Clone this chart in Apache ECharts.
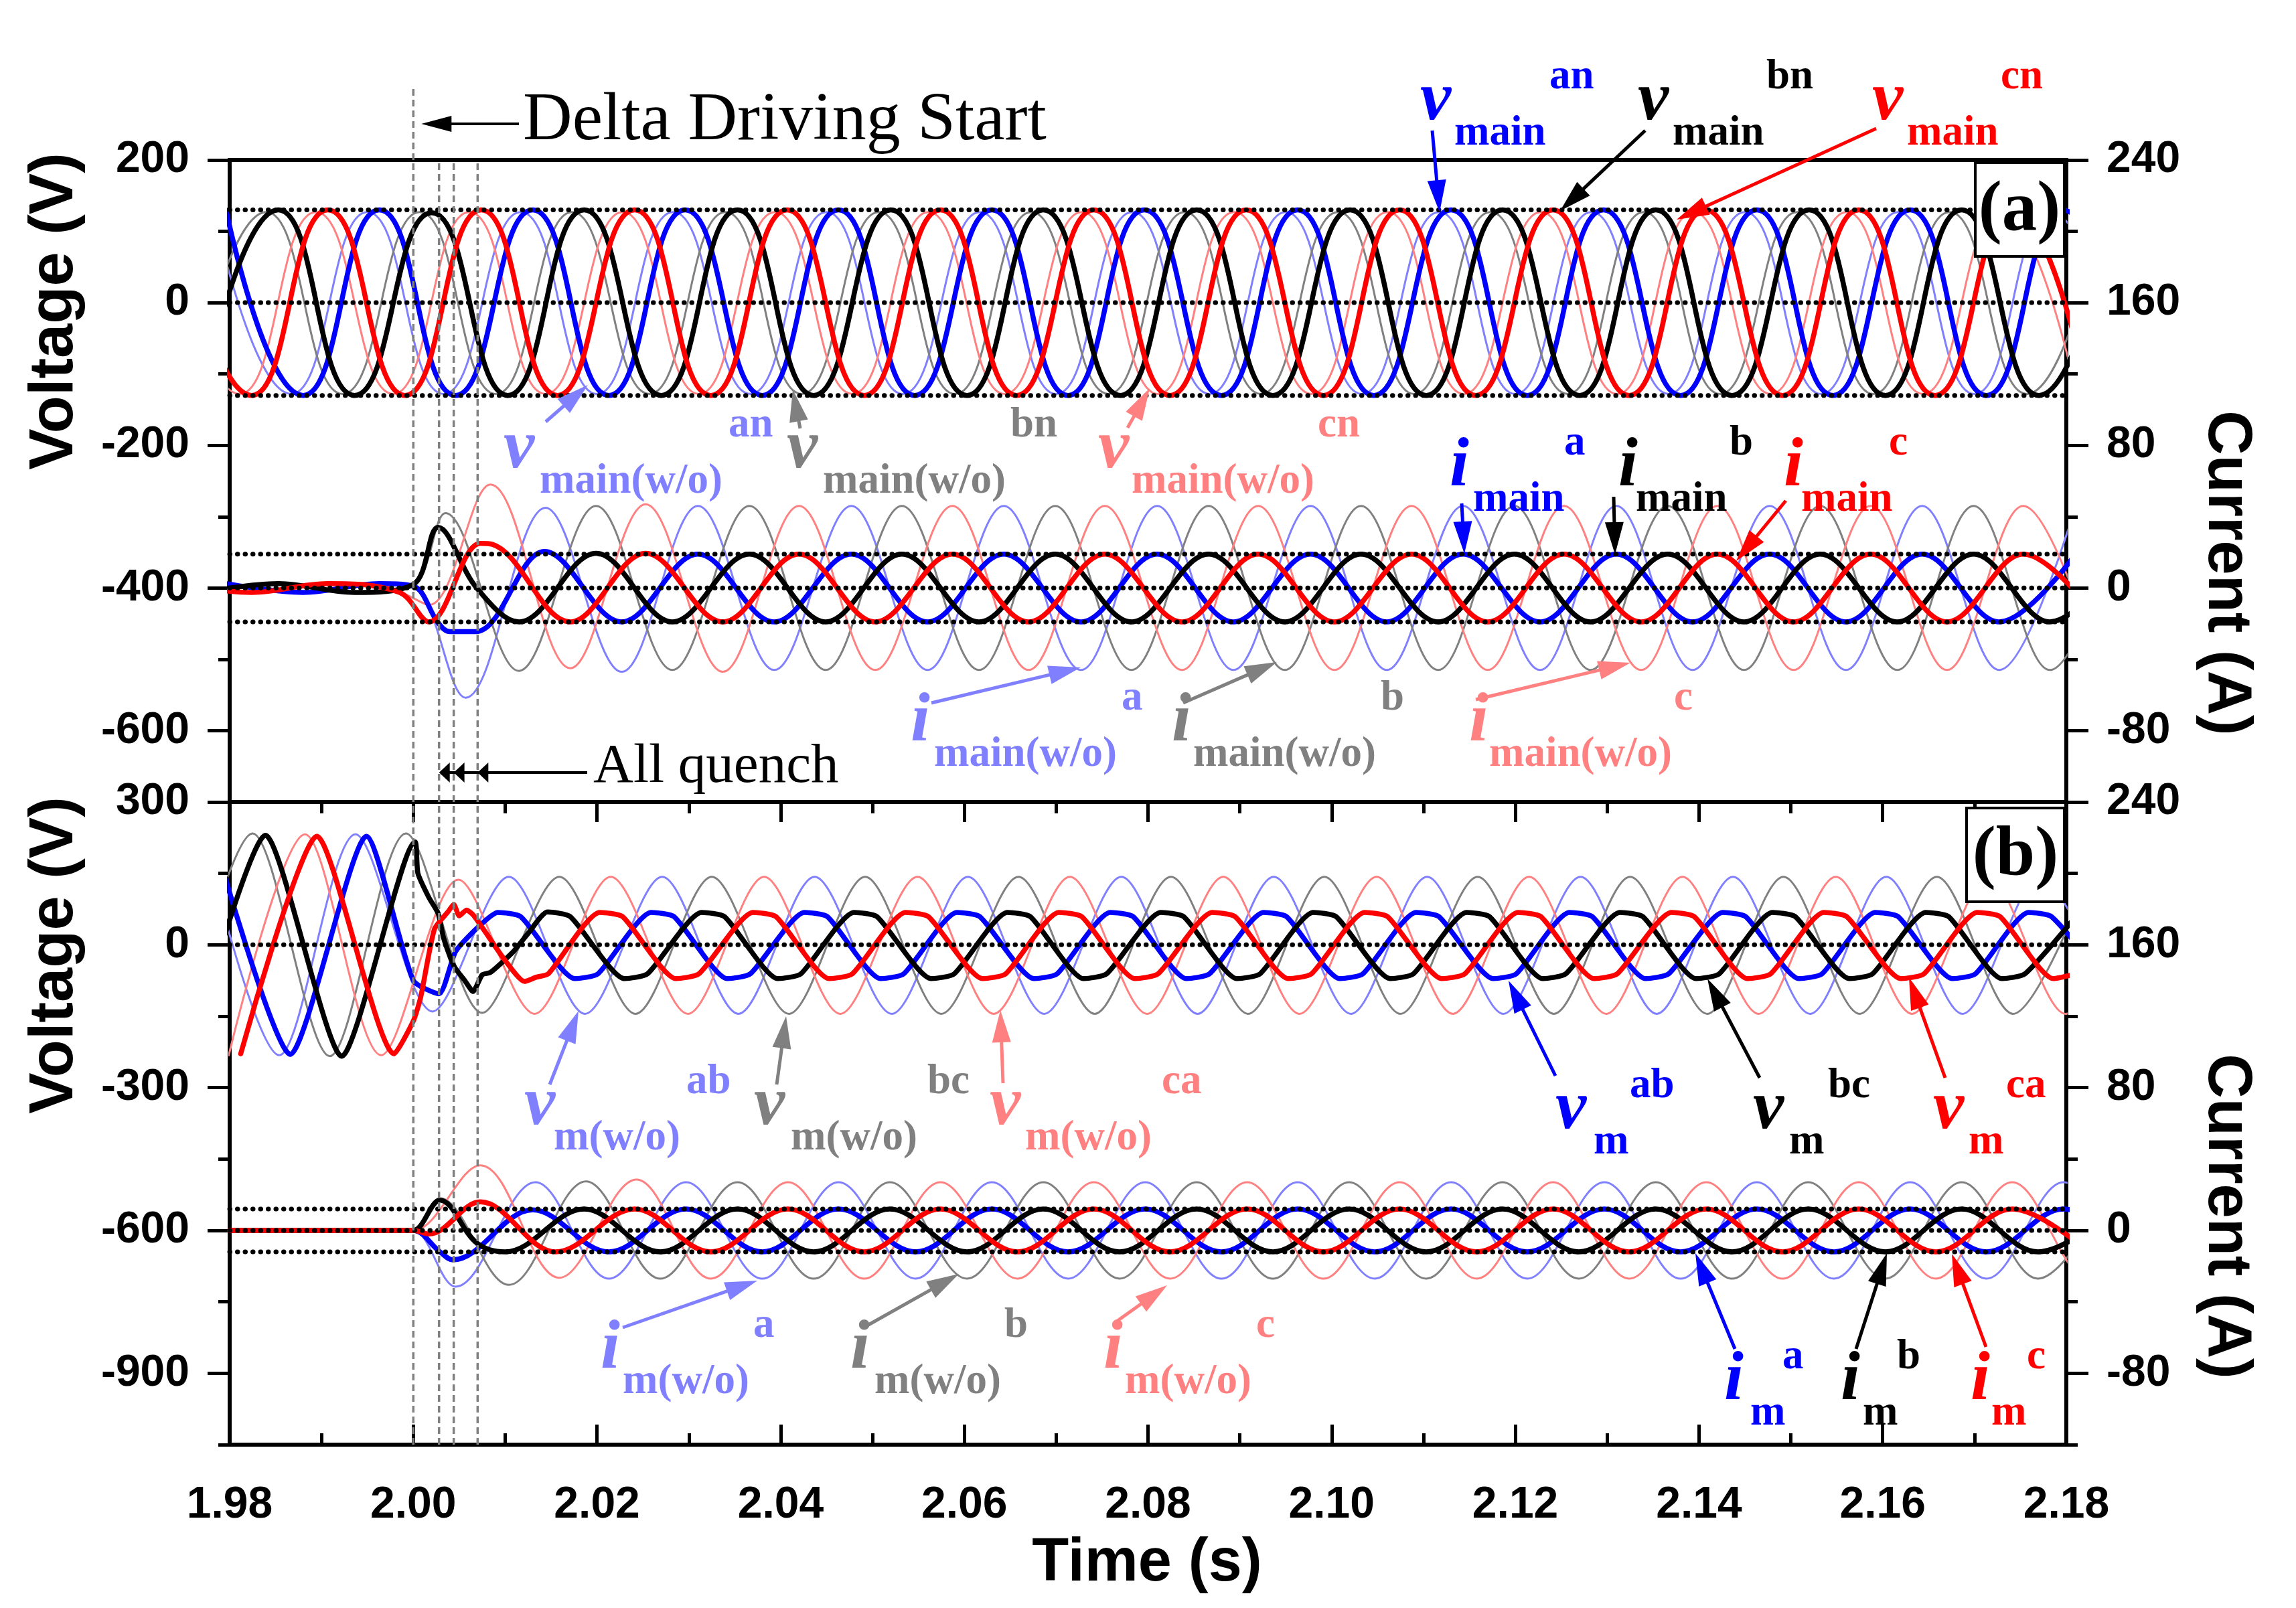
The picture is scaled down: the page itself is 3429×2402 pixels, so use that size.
<!DOCTYPE html>
<html><head><meta charset="utf-8">
<script src="https://cdn.jsdelivr.net/npm/echarts@6/dist/echarts.min.js"></script>
<style>html,body{margin:0;padding:0;background:#fff}#c{width:3429px;height:2402px}</style>
</head><body><div id="c"></div>
<script>
// ---------------- DATA (time in s, voltage in V, current in A) ----------------
const TIME_MIN = 1.98, TIME_MAX = 2.18;
const quenchTimes = [2.0000, 2.0028, 2.0044, 2.0070];
const refVoltA = [130, 0, -130];
const refCurrA = [19, 0, -19];
const refVoltB = [0];
const refCurrB = [12, 0, -12];
const voltTicksA = [-600, -400, -200, 0, 200];
const voltTicksB = [-900, -600, -300, 0, 300];
const currTicks = [-80, 0, 80, 160, 240];

// (a) phase voltages, main (with delta driving)
const vMainAn = [[1.9796,130],[1.9880,-130],[1.9963,130],[2.0046,-130],[2.0130,130],[2.0213,-130],[2.0296,130],[2.0380,-130],[2.0463,130],[2.0546,-130],[2.0630,130],[2.0713,-130],[2.0796,130],[2.0880,-130],[2.0963,130],[2.1046,-130],[2.1130,130],[2.1213,-130],[2.1296,130],[2.1380,-130],[2.1463,130],[2.1546,-130],[2.1630,130],[2.1713,-130],[2.1796,130],[2.1880,-130]];
const vMainBn = [[1.9770,-130],[1.9853,130],[1.9936,-130],[2.0020,126],[2.0103,-130],[2.0186,130],[2.0270,-130],[2.0353,130],[2.0436,-130],[2.0520,130],[2.0603,-130],[2.0686,130],[2.0770,-130],[2.0853,130],[2.0936,-130],[2.1020,130],[2.1103,-130],[2.1186,130],[2.1270,-130],[2.1353,130],[2.1436,-130],[2.1520,130],[2.1603,-130],[2.1686,130],[2.1770,-130],[2.1853,130]];
const vMainCn = [[1.9741,130],[1.9824,-130],[1.9907,130],[1.9991,-130],[2.0074,130],[2.0157,-130],[2.0241,130],[2.0324,-130],[2.0407,130],[2.0491,-130],[2.0574,130],[2.0657,-130],[2.0741,130],[2.0824,-130],[2.0907,130],[2.0991,-130],[2.1074,130],[2.1157,-130],[2.1241,130],[2.1324,-130],[2.1407,130],[2.1491,-130],[2.1574,130],[2.1657,-130],[2.1741,130],[2.1824,-130]];
// (a) phase voltages without delta driving
const vWoAn = [[1.9783,127],[1.9867,-128],[1.9950,127],[2.0033,-128],[2.0117,127],[2.0200,-128],[2.0283,127],[2.0367,-128],[2.0450,127],[2.0533,-128],[2.0617,127],[2.0700,-128],[2.0783,127],[2.0867,-128],[2.0950,127],[2.1033,-128],[2.1117,127],[2.1200,-128],[2.1283,127],[2.1367,-128],[2.1450,127],[2.1533,-128],[2.1617,127],[2.1700,-128],[2.1783,127],[2.1867,-128]];
const vWoBn = [[1.9757,-128],[1.9840,127],[1.9923,-128],[2.0007,127],[2.0090,-128],[2.0173,127],[2.0257,-128],[2.0340,127],[2.0423,-128],[2.0507,127],[2.0590,-128],[2.0673,127],[2.0757,-128],[2.0840,127],[2.0923,-128],[2.1007,127],[2.1090,-128],[2.1173,127],[2.1257,-128],[2.1340,127],[2.1423,-128],[2.1507,127],[2.1590,-128],[2.1673,127],[2.1757,-128],[2.1840,127]];
const vWoCn = [[1.9728,127],[1.9811,-128],[1.9894,127],[1.9978,-128],[2.0061,127],[2.0144,-128],[2.0228,127],[2.0311,-128],[2.0394,127],[2.0478,-128],[2.0561,127],[2.0644,-128],[2.0728,127],[2.0811,-128],[2.0894,127],[2.0978,-128],[2.1061,127],[2.1144,-128],[2.1228,127],[2.1311,-128],[2.1394,127],[2.1478,-128],[2.1561,127],[2.1644,-128],[2.1728,127],[2.1811,-128]];
// (a) main currents
const iMainA = [[1.9796,2.5],[1.9880,-2.5],[1.9963,2.5],[2.0000,1],[2.0027,-19.5],[2.0040,-24.5],[2.0068,-24.5],[2.0143,20.5],[2.0227,-19],[2.0310,19],[2.0393,-19],[2.0477,19],[2.0560,-19],[2.0643,19],[2.0727,-19],[2.0810,19],[2.0893,-19],[2.0977,19],[2.1060,-19],[2.1143,19],[2.1227,-19],[2.1310,19],[2.1393,-19],[2.1477,19],[2.1560,-19],[2.1643,19],[2.1727,-19],[2.1810,19]];
const iMainB = [[1.9770,-2.5],[1.9853,2.5],[1.9936,-2.5],[2.0000,2],[2.0027,34],[2.0069,0],[2.0115,-19],[2.0199,19.5],[2.0282,-19],[2.0366,19],[2.0449,-19],[2.0532,19],[2.0616,-19],[2.0699,19],[2.0782,-19],[2.0866,19],[2.0949,-19],[2.1032,19],[2.1116,-19],[2.1199,19],[2.1282,-19],[2.1366,19],[2.1449,-19],[2.1532,19],[2.1616,-19],[2.1699,19],[2.1782,-19],[2.1866,19]];
const iMainC = [[1.9741,2.5],[1.9824,-2.5],[1.9907,2.5],[1.9985,-2.5],[2.0017,-19],[2.0073,25],[2.0086,24.5],[2.0171,-19],[2.0253,19.5],[2.0337,-19],[2.0420,19],[2.0503,-19],[2.0587,19],[2.0670,-19],[2.0753,19],[2.0837,-19],[2.0920,19],[2.1003,-19],[2.1087,19],[2.1170,-19],[2.1253,19],[2.1337,-19],[2.1420,19],[2.1503,-19],[2.1587,19],[2.1670,-19],[2.1753,19],[2.1837,-19]];
// (a) currents without delta driving
const iWoA = [[1.9796,2.5],[1.9880,-2.5],[1.9963,2.5],[2.0000,1],[2.0057,-61.5],[2.0144,45],[2.0227,-47],[2.0310,46],[2.0393,-46],[2.0477,46],[2.0560,-46],[2.0643,46],[2.0727,-46],[2.0810,46],[2.0893,-46],[2.0977,46],[2.1060,-46],[2.1143,46],[2.1227,-46],[2.1310,46],[2.1393,-46],[2.1477,46],[2.1560,-46],[2.1643,46],[2.1727,-46],[2.1810,46]];
const iWoB = [[1.9770,-2.5],[1.9853,2.5],[1.9936,-2.5],[2.0000,2],[2.0035,42],[2.0115,-46.5],[2.0199,46],[2.0282,-46],[2.0366,46],[2.0449,-46],[2.0532,46],[2.0616,-46],[2.0699,46],[2.0782,-46],[2.0866,46],[2.0949,-46],[2.1032,46],[2.1116,-46],[2.1199,46],[2.1282,-46],[2.1366,46],[2.1449,-46],[2.1532,46],[2.1616,-46],[2.1699,46],[2.1782,-46],[2.1866,46]];
const iWoC = [[1.9741,2.5],[1.9824,-2.5],[1.9907,2.5],[1.9985,-2.5],[2.0017,-9.5],[2.0084,58],[2.0171,-45],[2.0253,47],[2.0337,-47],[2.0420,46],[2.0503,-46],[2.0587,46],[2.0670,-46],[2.0753,46],[2.0837,-46],[2.0920,46],[2.1003,-46],[2.1087,46],[2.1170,-46],[2.1253,46],[2.1337,-46],[2.1420,46],[2.1503,-46],[2.1587,46],[2.1670,-46],[2.1753,46],[2.1837,-46]];

// (b) line voltages, main
const vmAb = [[1.9782,228],[1.9866,-230],[1.9949,228],[2.0000,-75],[2.0028,-103],[2.0046,-14],[2.0071,38],[2.0092,68],[2.0117,59],[2.0176,-71],[2.0201,-61],[2.0259,68],[2.0284,59],[2.0342,-71],[2.0367,-61],[2.0426,68],[2.0451,59],[2.0509,-71],[2.0534,-61],[2.0592,68],[2.0617,59],[2.0676,-71],[2.0701,-61],[2.0759,68],[2.0784,59],[2.0842,-71],[2.0867,-61],[2.0926,68],[2.0951,59],[2.1009,-71],[2.1034,-61],[2.1092,68],[2.1117,59],[2.1176,-71],[2.1201,-61],[2.1259,68],[2.1284,59],[2.1342,-71],[2.1367,-61],[2.1426,68],[2.1451,59],[2.1509,-71],[2.1534,-61],[2.1592,68],[2.1617,59],[2.1676,-71],[2.1701,-61],[2.1759,68],[2.1784,59],[2.1842,-71]];
const vmBc = [[1.9756,-230],[1.9839,230],[1.9922,-234],[2.0002,216],[2.0005,150],[2.0017,99],[2.0027,66],[2.0033,14],[2.0044,-44],[2.0056,-75],[2.0065,-98],[2.0075,-63],[2.0084,-58],[2.0109,-14],[2.0125,24],[2.0146,69],[2.0171,59],[2.0230,-71],[2.0255,-61],[2.0314,68],[2.0339,59],[2.0397,-71],[2.0422,-61],[2.0480,68],[2.0505,59],[2.0564,-71],[2.0589,-61],[2.0647,68],[2.0672,59],[2.0730,-71],[2.0755,-61],[2.0814,68],[2.0839,59],[2.0897,-71],[2.0922,-61],[2.0980,68],[2.1005,59],[2.1064,-71],[2.1089,-61],[2.1147,68],[2.1172,59],[2.1230,-71],[2.1255,-61],[2.1314,68],[2.1339,59],[2.1397,-71],[2.1422,-61],[2.1480,68],[2.1505,59],[2.1564,-71],[2.1589,-61],[2.1647,68],[2.1672,59],[2.1730,-71],[2.1755,-61],[2.1814,68]];
const vmCa = [[1.9812,-229],[1.9895,228],[1.9979,-229],[2.0000,-160],[2.0008,-110],[2.0023,33],[2.0038,70],[2.0044,85],[2.0050,61],[2.0058,73],[2.0066,61],[2.0100,-33],[2.0121,-77],[2.0134,-68],[2.0147,-61],[2.0203,68],[2.0228,59],[2.0286,-71],[2.0311,-61],[2.0370,68],[2.0395,59],[2.0453,-71],[2.0478,-61],[2.0536,68],[2.0561,59],[2.0620,-71],[2.0645,-61],[2.0703,68],[2.0728,59],[2.0786,-71],[2.0811,-61],[2.0870,68],[2.0895,59],[2.0953,-71],[2.0978,-61],[2.1036,68],[2.1061,59],[2.1120,-71],[2.1145,-61],[2.1203,68],[2.1228,59],[2.1286,-71],[2.1311,-61],[2.1370,68],[2.1395,59],[2.1453,-71],[2.1478,-61],[2.1536,68],[2.1561,59],[2.1620,-71],[2.1645,-61],[2.1703,68],[2.1728,59],[2.1786,-71],[2.1811,-61]];
// (b) line voltages without delta driving
const vmWoAb = [[1.9771,232],[1.9854,-232],[1.9937,232],[2.0021,-140],[2.0104,143],[2.0187,-145],[2.0271,143],[2.0354,-145],[2.0437,143],[2.0521,-145],[2.0604,143],[2.0687,-145],[2.0771,143],[2.0854,-145],[2.0937,143],[2.1021,-145],[2.1104,143],[2.1187,-145],[2.1271,143],[2.1354,-145],[2.1437,143],[2.1521,-145],[2.1604,143],[2.1687,-145],[2.1771,143],[2.1854,-145]];
const vmWoBc = [[1.9742,-232],[1.9825,234],[1.9909,-234],[1.9992,234],[2.0075,-143],[2.0159,143],[2.0242,-145],[2.0325,143],[2.0409,-145],[2.0492,143],[2.0575,-145],[2.0659,143],[2.0742,-145],[2.0825,143],[2.0909,-145],[2.0992,143],[2.1075,-145],[2.1159,143],[2.1242,-145],[2.1325,143],[2.1409,-145],[2.1492,143],[2.1575,-145],[2.1659,143],[2.1742,-145],[2.1825,143]];
const vmWoCa = [[1.9799,-232],[1.9882,232],[1.9965,-232],[2.0049,137],[2.0132,-145],[2.0215,143],[2.0299,-145],[2.0382,143],[2.0465,-145],[2.0549,143],[2.0632,-145],[2.0715,143],[2.0799,-145],[2.0882,143],[2.0965,-145],[2.1049,143],[2.1132,-145],[2.1215,143],[2.1299,-145],[2.1382,143],[2.1465,-145],[2.1549,143],[2.1632,-145],[2.1715,143],[2.1799,-145],[2.1882,143]];
// (b) main currents
const imA = [[1.9800,0],[1.9990,0],[2.0000,0],[2.0029,-12],[2.0043,-16.5],[2.0130,11.5],[2.0213,-12],[2.0297,12],[2.0380,-12],[2.0463,12],[2.0547,-12],[2.0630,12],[2.0713,-12],[2.0797,12],[2.0880,-12],[2.0963,12],[2.1047,-12],[2.1130,12],[2.1213,-12],[2.1297,12],[2.1380,-12],[2.1463,12],[2.1547,-12],[2.1630,12],[2.1713,-12],[2.1797,12],[2.1880,-12]];
const imB = [[1.9800,0],[1.9990,0],[2.0000,0],[2.0029,17],[2.0069,-7],[2.0100,-12],[2.0186,12],[2.0269,-12],[2.0353,12],[2.0436,-12],[2.0519,12],[2.0603,-12],[2.0686,12],[2.0769,-12],[2.0853,12],[2.0936,-12],[2.1019,12],[2.1103,-12],[2.1186,12],[2.1269,-12],[2.1353,12],[2.1436,-12],[2.1519,12],[2.1603,-12],[2.1686,12],[2.1769,-12],[2.1853,12]];
const imC = [[1.9800,0],[1.9990,0],[2.0000,0],[2.0017,-2],[2.0073,16],[2.0155,-12],[2.0241,12],[2.0324,-12],[2.0408,12],[2.0491,-12],[2.0574,12],[2.0658,-12],[2.0741,12],[2.0824,-12],[2.0908,12],[2.0991,-12],[2.1074,12],[2.1158,-12],[2.1241,12],[2.1324,-12],[2.1408,12],[2.1491,-12],[2.1574,12],[2.1658,-12],[2.1741,12],[2.1824,-12]];
// (b) currents without delta driving
const imWoA = [[1.9800,0],[1.9990,0],[2.0000,0],[2.0046,-31.5],[2.0133,27],[2.0213,-27],[2.0297,27],[2.0380,-27],[2.0463,27],[2.0547,-27],[2.0630,27],[2.0713,-27],[2.0797,27],[2.0880,-27],[2.0963,27],[2.1047,-27],[2.1130,27],[2.1213,-27],[2.1297,27],[2.1380,-27],[2.1463,27],[2.1547,-27],[2.1630,27],[2.1713,-27],[2.1797,27],[2.1880,-27]];
const imWoB = [[1.9800,0],[1.9990,0],[2.0000,0],[2.0029,18],[2.0104,-30.5],[2.0188,27.5],[2.0269,-27],[2.0353,27],[2.0436,-27],[2.0519,27],[2.0603,-27],[2.0686,27],[2.0769,-27],[2.0853,27],[2.0936,-27],[2.1019,27],[2.1103,-27],[2.1186,27],[2.1269,-27],[2.1353,27],[2.1436,-27],[2.1519,27],[2.1603,-27],[2.1686,27],[2.1769,-27],[2.1853,27]];
const imWoC = [[1.9800,0],[1.9990,0],[2.0000,0],[2.0073,36.5],[2.0159,-26.5],[2.0243,28.5],[2.0324,-27],[2.0408,27],[2.0491,-27],[2.0574,27],[2.0658,-27],[2.0741,27],[2.0824,-27],[2.0908,27],[2.0991,-27],[2.1074,27],[2.1158,-27],[2.1241,27],[2.1324,-27],[2.1408,27],[2.1491,-27],[2.1574,27],[2.1658,-27],[2.1741,27],[2.1824,-27],[2.1908,27]];

// ---------------- STYLE ----------------
const C = {blue:'#0000ff', black:'#000000', red:'#ff0000', lblue:'#8080ff', gray:'#808080', lred:'#ff8080'};
const SANS = '"Liberation Sans", Arial, sans-serif';
const SERIF = '"Liberation Serif", "Times New Roman", serif';
const tickFont = {fontFamily: SANS, fontWeight: 'bold', fontSize: 66, color: '#000'};
const THICK = 7.5, THIN = 3;

function line(data, xi, yi, color, width, smooth, z) {
  return {type:'line', xAxisIndex:xi, yAxisIndex:yi, data, symbol:'none', showSymbol:false,
    smooth, lineStyle:{color, width, join:'round', cap:'round'}, z, silent:true, animation:false};
}
function dotted(xi, yi, y) {
  return {type:'line', xAxisIndex:xi, yAxisIndex:yi, data:[[TIME_MIN,y],[TIME_MAX,y]], symbol:'none',
    lineStyle:{color:'#000', width:7, type:[0.5,11], cap:'round'}, z:4, silent:true, animation:false};
}
function vdash(xi, yi, t, lo, hi) {
  return {type:'line', xAxisIndex:xi, yAxisIndex:yi, data:[[t,lo],[t,hi]], symbol:'none',
    lineStyle:{color:'#808080', width:3.5, type:[10,6]}, z:4, silent:true, animation:false};
}

const series = [
  line(vWoAn,0,0,C.lblue,THIN,0.5,2), line(vWoBn,0,0,C.gray,THIN,0.5,2), line(vWoCn,0,0,C.lred,THIN,0.5,2),
  line(iWoA,0,2,C.lblue,THIN,0.36,2), line(iWoB,0,2,C.gray,THIN,0.36,2), line(iWoC,0,2,C.lred,THIN,0.36,2),
  line(vMainAn,0,0,C.blue,THICK,0.5,3), line(vMainBn,0,0,C.black,THICK,0.5,3), line(vMainCn,0,0,C.red,THICK,0.5,3),
  line(iMainA,0,2,C.blue,THICK,0.36,3), line(iMainB,0,2,C.black,THICK,0.36,3), line(iMainC,0,2,C.red,THICK,0.36,3),
  line(vmWoAb,1,4,C.lblue,THIN,0.3,2), line(vmWoBc,1,4,C.gray,THIN,0.3,2), line(vmWoCa,1,4,C.lred,THIN,0.3,2),
  line(imWoA,1,6,C.lblue,THIN,0.36,2), line(imWoB,1,6,C.gray,THIN,0.36,2), line(imWoC,1,6,C.lred,THIN,0.36,2),
  line(vmAb,1,4,C.blue,THICK,0.2,3), line(vmBc,1,4,C.black,THICK,0.2,3), line(vmCa,1,4,C.red,THICK,0.2,3),
  line(imA,1,6,C.blue,THICK,0.36,3), line(imB,1,6,C.black,THICK,0.36,3), line(imC,1,6,C.red,THICK,0.36,3)
];
refVoltA.forEach(v => series.push(dotted(0,0,v)));
refCurrA.forEach(v => series.push(dotted(0,2,v)));
refVoltB.forEach(v => series.push(dotted(1,4,v)));
refCurrB.forEach(v => series.push(dotted(1,6,v)));
quenchTimes.forEach(t => { series.push(vdash(0,0,t,-700,200)); series.push(vdash(1,4,t,-1050,300)); });

const tickLine = {color:'#000', width:5};
function xAxisB(pos, showLabel) {
  return {gridIndex:1, type:'value', position:pos, min:TIME_MIN, max:TIME_MAX, interval:0.02,
    axisLine:{show:false, onZero:false}, splitLine:{show:false}, minorSplitLine:{show:false},
    axisTick:{show:true, inside:true, length:30, lineStyle:tickLine},
    minorTick:{show:true, splitNumber:2, length:17, lineStyle:tickLine},
    axisLabel: showLabel ? Object.assign({margin:58, formatter:v => v.toFixed(2)}, tickFont) : {show:false}};
}
function yBase(grid, pos, min, max, interval, every) {
  return {gridIndex:grid, type:'value', position:pos, min, max, interval,
    axisLine:{show:false, onZero:false}, splitLine:{show:false},
    axisTick:{show:true, length:17, lineStyle:tickLine},
    axisLabel:Object.assign({margin:60, formatter:v => (Math.round(v) % every === 0 ? String(Math.round(v)) : '')}, tickFont)};
}
function yLong(grid, pos, min, max, ticks) {
  return {gridIndex:grid, type:'value', position:pos, min, max,
    axisLine:{show:false, onZero:false}, splitLine:{show:false}, axisLabel:{show:false},
    axisTick:{show:true, length:33, lineStyle:tickLine, customValues:ticks}};
}

const option = {
  animation:false,
  backgroundColor:'#ffffff',
  grid:[
    {left:343, width:2743, top:239, height:959, show:true, borderColor:'#000', borderWidth:6, backgroundColor:'transparent', outerBoundsMode:'none'},
    {left:343, width:2743, top:1198, height:960, show:true, borderColor:'#000', borderWidth:6, backgroundColor:'transparent', outerBoundsMode:'none'}
  ],
  xAxis:[
    {gridIndex:0, type:'value', min:TIME_MIN, max:TIME_MAX, axisLine:{show:false, onZero:false}, axisTick:{show:false}, axisLabel:{show:false}, splitLine:{show:false}},
    xAxisB('bottom', true),
    xAxisB('top', false)
  ],
  yAxis:[
    yBase(0,'left',-700,200,100,200), yLong(0,'left',-700,200,voltTicksA),
    yBase(0,'right',-120,240,40,80), yLong(0,'right',-120,240,currTicks),
    yBase(1,'left',-1050,300,150,300), yLong(1,'left',-1050,300,voltTicksB),
    yBase(1,'right',-120,240,40,80), yLong(1,'right',-120,240,currTicks)
  ],
  series
};

const chart = echarts.init(document.getElementById('c'), null, {renderer:'canvas', width:3429, height:2402});
chart.setOption(option);

// ---------------- ANNOTATIONS ----------------
const G = [];
function txt(x, y, s, font, color, align, rot) {
  G.push({type:'text', x, y, rotation:rot||0, z:100, silent:true,
    style:{text:s, font, fill:color, align:align||'left', verticalAlign:'middle', textAlign:align||'left', textVerticalAlign:'middle'}});
}
function arrow(x1, y1, x2, y2, color, w, hl, hw) {
  w = w || 5; hl = hl || 48; hw = hw || 13;
  const dx = x2-x1, dy = y2-y1, L = Math.hypot(dx,dy), ux = dx/L, uy = dy/L;
  const bx = x2-ux*hl, by = y2-uy*hl;
  G.push({type:'line', z:100, silent:true, shape:{x1, y1, x2:bx+ux*2, y2:by+uy*2}, style:{stroke:color, lineWidth:w}});
  G.push({type:'polygon', z:100, silent:true, shape:{points:[[x2,y2],[bx-uy*hw,by+ux*hw],[bx+uy*hw,by-ux*hw]]}, style:{fill:color}});
}
const FM = 104, FS = 63;
function lab(letter, x, base, sub, subX, sup, supX, color) {
  txt(x, base-0.31*FM, letter, `italic bold ${FM}px ${SERIF}`, color);
  txt(subX, base+36-0.31*FS, sub, `bold ${FS}px ${SERIF}`, color);
  txt(supX, base-48-0.31*FS, sup, `bold ${FS}px ${SERIF}`, color);
}
[
  ['v',2121,183,'main',2172,'an',2314,C.blue], ['v',2446,183,'main',2498,'bn',2638,C.black], ['v',2796,183,'main',2848,'cn',2988,C.red],
  ['v',752,703,'main(w/o)',806,'an',1088,C.lblue], ['v',1175,703,'main(w/o)',1229,'bn',1509,C.gray], ['v',1640,703,'main(w/o)',1690,'cn',1968,C.lred],
  ['i',2165,730,'main',2200,'a',2336,C.blue], ['i',2417,730,'main',2443,'b',2583,C.black], ['i',2664,730,'main',2690,'c',2821,C.red],
  ['i',1360,1111,'main(w/o)',1395,'a',1675,C.lblue], ['i',1750,1111,'main(w/o)',1782,'b',2062,C.gray], ['i',2194,1111,'main(w/o)',2224,'c',2500,C.lred],
  ['v',783,1684,'m(w/o)',827,'ab',1025,C.lblue], ['v',1126,1684,'m(w/o)',1181,'bc',1385,C.gray], ['v',1478,1684,'m(w/o)',1531,'ca',1735,C.lred],
  ['v',2323,1690,'m',2380,'ab',2434,C.blue], ['v',2618,1690,'m',2672,'bc',2730,C.black], ['v',2887,1690,'m',2940,'ca',2996,C.red],
  ['i',897,2048,'m(w/o)',930,'a',1125,C.lblue], ['i',1270,2048,'m(w/o)',1306,'b',1500,C.gray], ['i',1648,2048,'m(w/o)',1680,'c',1876,C.lred],
  ['i',2575,2095,'m',2614,'a',2662,C.blue], ['i',2749,2095,'m',2782,'b',2833,C.black], ['i',2943,2095,'m',2974,'c',3027,C.red]
].forEach(a => lab.apply(null, a));

[
  [2139,195,2150,317,C.blue],[2457,195,2330,315,C.black],[2802,192,2504,328,C.red],
  [815,630,878,575,C.lblue],[1195,640,1184,582,C.gray],[1684,639,1717,580,C.lred],
  [2183,752,2187,827,C.blue],[2410,742,2412,828,C.black],[2667,748,2593,838,C.red],
  [1391,1050,1614,997,C.lblue],[1767,1050,1907,989,C.gray],[2204,1045,2435,990,C.lred],
  [821,1620,864,1510,C.lblue],[1160,1620,1174,1518,C.gray],[1498,1618,1494,1509,C.lred],
  [2323,1607,2253,1465,C.blue],[2628,1610,2550,1462,C.black],[2905,1610,2851,1460,C.red],
  [930,1983,1131,1913,C.lblue],[1297,1979,1432,1903,C.gray],[1666,1975,1743,1920,C.lred],
  [2591,2015,2532,1872,C.blue],[2772,2015,2818,1872,C.black],[2966,2012,2915,1873,C.red]
].forEach(a => arrow(a[0],a[1],a[2],a[3],a[4],5,48,14));

// Delta driving start marker
const x200 = chart.convertToPixel({xAxisIndex:0}, 2.0);
G.push({type:'line', z:100, silent:true, shape:{x1:x200, y1:133, x2:x200, y2:239}, style:{stroke:'#808080', lineWidth:3.5, lineDash:[10,6]}});
arrow(775,185,x200+12,185,'#000',4,45,12);
txt(781, 181, 'Delta Driving Start', `${102}px ${SERIF}`, '#000');
// All quench marker
const qx = quenchTimes.slice(1).map(t => chart.convertToPixel({xAxisIndex:0}, t));
G.push({type:'line', z:100, silent:true, shape:{x1:877, y1:1154, x2:qx[0]+8, y2:1154}, style:{stroke:'#000', lineWidth:4}});
qx.forEach(x => G.push({type:'polygon', z:100, silent:true, shape:{points:[[x,1154],[x+16,1139],[x+16,1169]]}, style:{fill:'#000'}}));
txt(886, 1146, 'All quench', `${83}px ${SERIF}`, '#000');

// panel tags
G.push({type:'rect', z:99, silent:true, shape:{x:2950, y:243, width:133, height:140}, style:{fill:'#fff', stroke:'#000', lineWidth:4}});
txt(3016, 316, '(a)', `bold 105px ${SERIF}`, '#000', 'center');
G.push({type:'rect', z:99, silent:true, shape:{x:2937, y:1207, width:146, height:140}, style:{fill:'#fff', stroke:'#000', lineWidth:4}});
txt(3010, 1280, '(b)', `bold 105px ${SERIF}`, '#000', 'center');

// axis titles
txt(83, 465, 'Voltage (V)', `bold 92px ${SANS}`, '#000', 'center', Math.PI/2);
txt(83, 1427, 'Voltage (V)', `bold 92px ${SANS}`, '#000', 'center', Math.PI/2);
txt(3324, 856, 'Current (A)', `bold 92px ${SANS}`, '#000', 'center', -Math.PI/2);
txt(3324, 1817, 'Current (A)', `bold 92px ${SANS}`, '#000', 'center', -Math.PI/2);
txt(1713, 2336, 'Time (s)', `bold 90px ${SANS}`, '#000', 'center');

chart.setOption({graphic:{elements:G}});
</script></body></html>
